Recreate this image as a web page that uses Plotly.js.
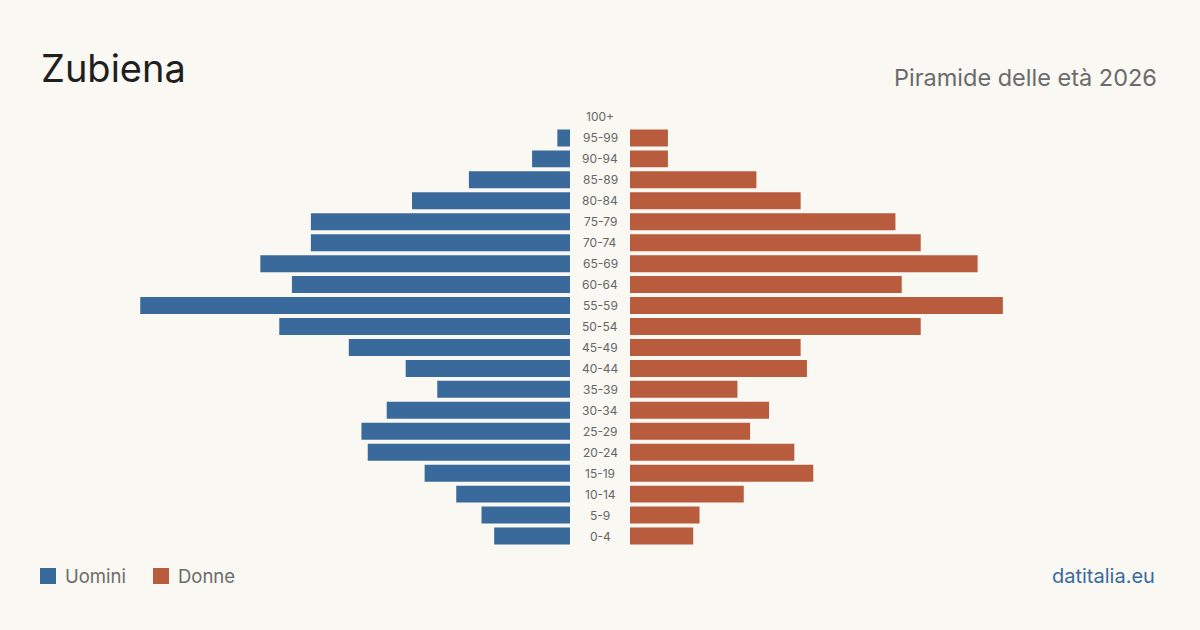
<!DOCTYPE html>
<html><head><meta charset="utf-8">
<script src="https://cdn.plot.ly/plotly-3.0.1.min.js"></script>
<style>html,body{margin:0;padding:0;background:#f9f8f3;}#chart{width:1200px;height:630px;}</style>
</head><body><div id="chart"></div>
<script>
const ageGroups = ["0-4","5-9","10-14","15-19","20-24","25-29","30-34","35-39","40-44","45-49","50-54","55-59","60-64","65-69","70-74","75-79","80-84","85-89","90-94","95-99","100+"];
const men   = [12,14,18,23,32,33,29,21,26,35,46,68,44,49,41,41,25,16,6,2,0];
const women = [10,11,18,29,26,19,22,17,28,27,46,59,43,55,46,42,27,20,6,6,0];

const blue = "#3a6a9b", orange = "#b95c3d";
const idx = ageGroups.map((_, i) => i);
const W = 1200, H = 630;
const trace1 = {type:"bar", orientation:"h", x:men, y:idx, xaxis:"x", yaxis:"y", marker:{color:blue}, name:"Uomini", hoverinfo:"x"};
const trace2 = {type:"bar", orientation:"h", x:women, y:idx, xaxis:"x2", yaxis:"y", marker:{color:orange}, name:"Donne", hoverinfo:"x"};

const annotations = ageGroups.map((g, i) => ({
  text: g, x: 600/W, xref: "paper", y: i, yref: "y", showarrow: false,
  font: {family: "Inter, sans-serif", size: 12, color: "#666"}, xanchor: "center", yanchor: "middle"
}));
annotations.push(
  {text:"Zubiena", x:39/W, y:1-68/H, xref:"paper", yref:"paper", xanchor:"left", yanchor:"middle", showarrow:false, font:{family:"Inter, sans-serif", size:38, color:"#1f1f1f"}},
  {text:"Piramide delle età 2026", x:1159/W, y:1-77/H, xref:"paper", yref:"paper", xanchor:"right", yanchor:"middle", showarrow:false, font:{family:"Inter, sans-serif", size:23.5, color:"#6b6b6b"}},
  {text:"Uomini", x:63/W, y:1-576/H, xref:"paper", yref:"paper", xanchor:"left", yanchor:"middle", showarrow:false, font:{family:"Inter, sans-serif", size:18.5, color:"#6b6b6b"}},
  {text:"Donne", x:176/W, y:1-576/H, xref:"paper", yref:"paper", xanchor:"left", yanchor:"middle", showarrow:false, font:{family:"Inter, sans-serif", size:18.5, color:"#6b6b6b"}},
  {text:"datitalia.eu", x:1157/W, y:1-576/H, xref:"paper", yref:"paper", xanchor:"right", yanchor:"middle", showarrow:false, font:{family:"Inter, sans-serif", size:20, color:"#3a6a9b"}}
);
const shapes = [
  {type:"rect", xref:"paper", yref:"paper", x0:40/W, x1:56/W, y0:1-584/H, y1:1-568/H, fillcolor:blue, line:{width:0}},
  {type:"rect", xref:"paper", yref:"paper", x0:153/W, x1:169/W, y0:1-584/H, y1:1-568/H, fillcolor:orange, line:{width:0}}
];
const pxPerUnit = 6.32, rangeMax = 70;
const span = rangeMax * pxPerUnit;
const layout = {
  width: W, height: H, margin:{l:0,r:0,t:0,b:0},
  paper_bgcolor:"#f9f8f3", plot_bgcolor:"#f9f8f3",
  showlegend:false, bargap:0.19,
  xaxis:{domain:[(570-span)/W, 570/W], range:[rangeMax,0], visible:false, fixedrange:true},
  xaxis2:{domain:[630/W, (630+span)/W], range:[0,rangeMax], visible:false, fixedrange:true},
  yaxis:{domain:[83.5/H, 523.5/H], range:[-0.5,20.5], visible:false, fixedrange:true},
  annotations, shapes
};
Plotly.newPlot("chart", [trace1, trace2], layout, {displayModeBar:false, staticPlot:true});
</script></body></html>
